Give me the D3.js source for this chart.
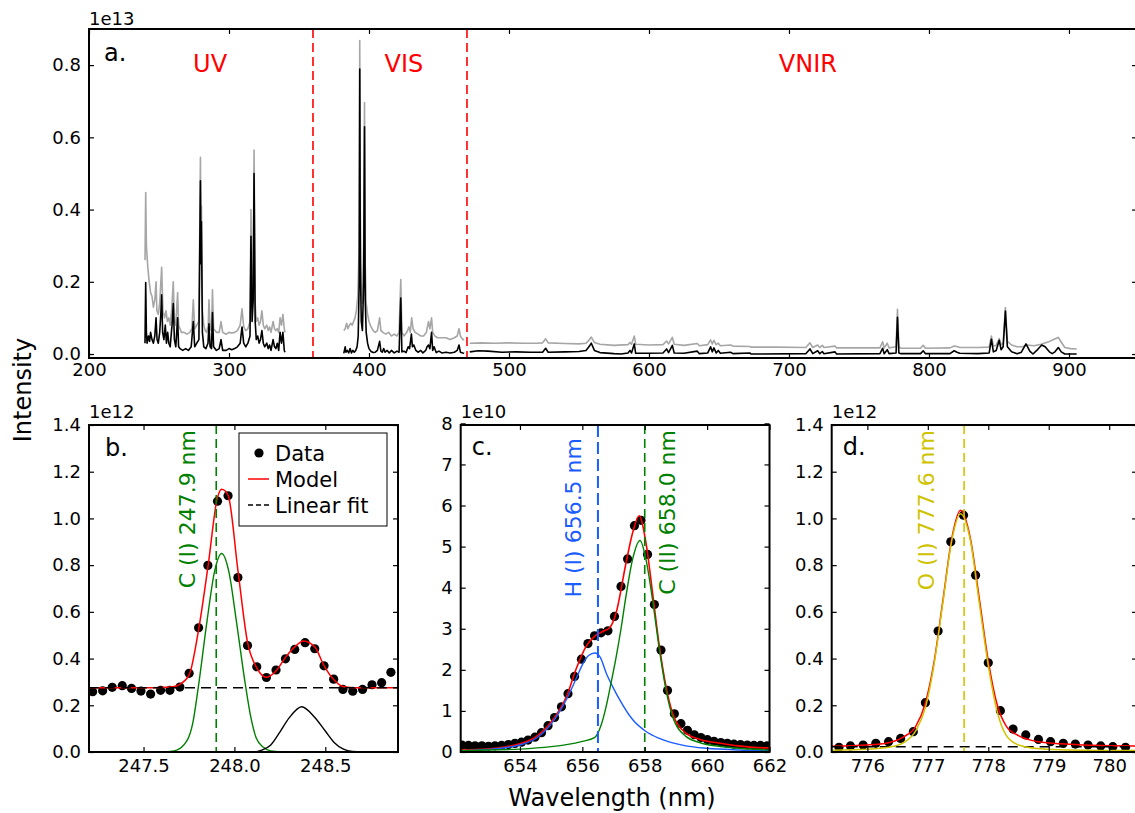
<!DOCTYPE html>
<html>
<head>
<meta charset="utf-8">
<script src="https://cdn.jsdelivr.net/npm/d3@7"></script>
<style>
  html, body { margin: 0; padding: 0; background: #fff; }
  svg { display: block; }
</style>
</head>
<body>
<svg id="fig" width="1135" height="813"></svg>
<script>
// ---------------------------------------------------------------
// Survey spectrum (intensity in units of 1e13), [wavelength nm, value]
// "raw" = measured spectrum, "corrected" = continuum-removed spectrum
// ---------------------------------------------------------------
const uvRaw = [
  [240.0,0.26],[240.5,0.447],[241.0,0.30],[242,0.24],[243,0.20],[244,0.17],[245,0.16],[246,0.13],
  [247,0.15],[247.9,0.20],[248.5,0.12],[249.5,0.11],[250.5,0.14],[251.9,0.24],[252.8,0.12],[254,0.10],
  [255,0.12],[256,0.09],[257,0.10],[258,0.08],[259,0.12],[260.2,0.20],[261,0.09],[262,0.08],
  [263.3,0.17],[264,0.08],[265,0.07],[266,0.06],[268,0.06],[270,0.055],[272,0.06],[273.5,0.07],
  [274.5,0.15],[275.5,0.07],[277,0.08],[278.5,0.09],[279.6,0.545],[280.0,0.30],[280.3,0.41],[281,0.12],
  [282,0.08],[283,0.065],[284,0.06],[285.2,0.08],[285.7,0.15],[286.5,0.07],[287.5,0.065],[288.2,0.178],
  [289,0.07],[291,0.06],[293,0.06],[294.3,0.09],[295.5,0.06],[298,0.055],[300,0.06],[302,0.058],
  [304,0.06],[306,0.065],[308,0.08],[309.3,0.125],[310.5,0.075],[312,0.065],[313.5,0.07],[315,0.09],
  [315.7,0.40],[316.5,0.15],[317.3,0.20],[317.9,0.565],[318.7,0.14],[319.5,0.09],[320.5,0.10],[321.5,0.08],
  [322.5,0.09],[323.5,0.12],[324.5,0.08],[325.5,0.07],[327,0.08],[328,0.065],[329,0.075],[330,0.06],
  [331.5,0.09],[332.5,0.07],[333.5,0.065],[334.5,0.07],[335.5,0.06],[336.5,0.10],[337.5,0.08],[338.5,0.11],
  [339.5,0.07],[340.0,0.06]
];
const uvCorrected = [
  [240.0,0.03],[240.5,0.198],[241.0,0.06],[241.5,0.03],[242.5,0.05],[243.3,0.035],[244,0.06],[245,0.04],
  [246,0.03],[247,0.05],[247.9,0.10],[248.6,0.04],[249.5,0.03],[250.5,0.06],[251.3,0.11],[251.9,0.164],
  [252.6,0.06],[253.5,0.04],[254.5,0.08],[255.3,0.03],[256.2,0.06],[257,0.03],[258,0.02],[259.3,0.08],
  [260.2,0.14],[261,0.04],[262,0.02],[263.3,0.10],[264,0.02],[265,0.015],[267,0.01],[269,0.015],
  [271,0.01],[273,0.02],[274.5,0.09],[275.5,0.02],[277,0.03],[278.5,0.04],[279.6,0.48],[280.0,0.25],
  [280.3,0.367],[281,0.06],[282,0.02],[283.5,0.015],[285,0.03],[285.7,0.084],[286.5,0.02],[287.5,0.015],
  [288.2,0.115],[289,0.02],[291,0.01],[293,0.015],[294.3,0.04],[295.5,0.01],[298,0.01],[300,0.015],
  [302,0.012],[304,0.015],[306,0.02],[308,0.03],[309.3,0.075],[310.5,0.03],[312,0.02],[313.5,0.03],
  [315,0.05],[315.7,0.326],[316.5,0.09],[317.3,0.15],[317.9,0.50],[318.7,0.09],[319.5,0.04],[320.5,0.05],
  [321.5,0.03],[322.5,0.04],[323.5,0.065],[324.5,0.03],[325.5,0.02],[327,0.03],[328,0.015],[329,0.025],
  [330,0.01],[331.5,0.04],[332.5,0.02],[333.5,0.015],[334.5,0.03],[335.5,0.01],[336.5,0.06],[337.5,0.03],
  [338.5,0.06],[339.5,0.01],[340.0,0.005]
];
const visRaw = [
  [382,0.065],[383,0.07],[384,0.085],[385,0.07],[386,0.08],[387,0.085],[388,0.08],[389,0.09],
  [390,0.10],[391,0.12],[392,0.16],[393.0,0.30],[393.4,0.868],[393.8,0.40],[394.5,0.18],[395.3,0.14],
  [396.2,0.30],[396.8,0.696],[397.3,0.25],[398,0.14],[399,0.11],[400,0.09],[401.5,0.075],[403,0.065],
  [404.5,0.06],[406,0.065],[407.6,0.10],[408.5,0.065],[410,0.06],[412,0.055],[414,0.06],[416,0.05],
  [418,0.055],[420,0.05],[421.5,0.06],[422.7,0.206],[423.5,0.06],[425,0.05],[427,0.06],[428.5,0.075],
  [429.5,0.06],[430.5,0.10],[431.5,0.07],[433,0.06],[435,0.055],[437,0.05],[439,0.05],[441,0.06],
  [442.5,0.09],[443.5,0.07],[444.7,0.10],[445.5,0.06],[447,0.05],[449,0.045],[452,0.045],[455,0.045],
  [458,0.04],[461,0.045],[463,0.05],[464.3,0.07],[465.3,0.05],[467,0.04],[468,0.04]
];
const visCorrected = [
  [382,0.002],[383,0.02],[383.5,0.005],[384.5,0.01],[385.5,0.003],[386.5,0.015],[387.5,0.003],[388.5,0.01],
  [389.5,0.005],[390.5,0.01],[391.5,0.02],[392.3,0.05],[393.0,0.20],[393.4,0.789],[393.8,0.25],[394.5,0.09],
  [395.3,0.065],[396.2,0.20],[396.8,0.629],[397.3,0.15],[398,0.06],[399,0.03],[400,0.015],[401.5,0.007],
  [403,0.004],[404.5,0.005],[406,0.01],[407.6,0.035],[408.5,0.008],[409.5,0.005],[410.5,0.015],[411.5,0.005],
  [413,0.01],[414.5,0.003],[416,0.01],[418,0.003],[420,0.008],[421.5,0.005],[422.7,0.155],[423.5,0.006],
  [425,0.008],[426.5,0.004],[428,0.02],[429,0.015],[430.3,0.055],[431,0.02],[432,0.025],[433.5,0.01],
  [435,0.005],[437,0.01],[438.5,0.003],[440.5,0.01],[441.5,0.02],[442.5,0.025],[443.5,0.015],[444.7,0.06],
  [445.5,0.01],[446.5,0.02],[448,0.004],[450,0.008],[452,0.003],[455,0.005],[458,0.003],[461,0.005],
  [463,0.01],[464.3,0.025],[465.3,0.005],[467,0.003],[468,0.002]
];
const vnirRaw = [
  [472,0.030],[480,0.031],[490,0.030],[500,0.031],[510,0.030],[520,0.030],[524,0.031],[526.2,0.042],
  [528,0.031],[540,0.029],[550,0.028],[555,0.030],[557.5,0.040],[558.8,0.047],[561,0.032],[565,0.027],
  [575,0.024],[585,0.026],[586.4,0.032],[587.5,0.027],[589.5,0.050],[590.5,0.027],[600,0.025],[610,0.026],
  [612.6,0.036],[614,0.028],[616.7,0.046],[618,0.027],[625,0.024],[634.5,0.029],[636,0.023],[642,0.026],
  [644,0.039],[645.2,0.028],[646.4,0.038],[648,0.026],[649.5,0.030],[651,0.023],[658.3,0.025],[660,0.022],
  [672,0.021],[673,0.019],[690,0.019],[712,0.018],[715,0.031],[717,0.018],[720.5,0.025],[722,0.018],
  [723.8,0.024],[725,0.018],[732.9,0.022],[734,0.017],[750,0.017],[765,0.017],[766.9,0.034],[768,0.017],
  [770.2,0.030],[771.5,0.017],[776.5,0.020],[777.5,0.124],[778.5,0.020],[780,0.016],[794,0.016],[795.9,0.024],
  [797.5,0.016],[815,0.017],[818,0.022],[820,0.021],[822,0.018],[835,0.018],[843,0.019],[844.6,0.050],
  [846,0.022],[848,0.024],[850.2,0.043],[851.5,0.025],[853,0.030],[854.6,0.129],[856,0.035],[859,0.025],
  [863,0.020],[867,0.020],[870,0.025],[875,0.023],[880,0.027],[885,0.033],[889,0.040],[892.4,0.046],
  [894,0.036],[897,0.018],[901,0.015],[905.5,0.014]
];
const vnirCorrected = [
  [472,0.006],[478,0.009],[485,0.008],[495,0.005],[505,0.006],[515,0.005],[524,0.005],[526.2,0.016],
  [528,0.005],[540,0.006],[550,0.007],[555,0.010],[557.5,0.022],[558.8,0.030],[561,0.010],[565,0.004],
  [575,0.001],[580,0.000],[585,0.003],[586.4,0.010],[587.5,0.003],[589.5,0.028],[590.5,0.002],[600,0.002],
  [610,0.003],[612.6,0.014],[614,0.004],[616.7,0.024],[618,0.003],[625,0.002],[634.5,0.008],[636,0.001],
  [642,0.003],[644,0.020],[645.2,0.006],[646.4,0.017],[648,0.003],[649.5,0.010],[651,0.002],[658.3,0.005],
  [660,0.001],[672,0.003],[673,0.000],[712,0.001],[715,0.014],[717,0.001],[720.5,0.009],[722,0.001],
  [723.8,0.007],[725,0.001],[732.9,0.006],[734,0.000],[765,0.001],[766.9,0.016],[768,0.001],[770.2,0.012],
  [771.5,0.001],[776.5,0.003],[777.5,0.102],[778.5,0.003],[780,0.001],[794,0.001],[795.9,0.009],[797.5,0.001],
  [815,0.001],[818,0.009],[820,0.005],[822,0.002],[835,0.001],[843,0.003],[844.6,0.041],[846,0.006],
  [848,0.010],[850.2,0.038],[851.5,0.012],[853,0.020],[854.6,0.119],[856,0.020],[859,0.006],[863,0.001],
  [866,0.005],[869.3,0.028],[872,0.008],[874.3,0.000],[877,0.010],[880.5,0.025],[883,0.020],[886,0.006],
  [888,0.001],[890,0.006],[892.4,0.018],[894.5,0.006],[897,0.000],[905.5,0.000]
];
// spectrometer ranges: boundaries between the three channels
const channelEdges = [360, 470];
const channelNames = ["UV", "VIS", "VNIR"];

// ---------------------------------------------------------------
// b. C (I) 247.9 nm fit (intensity in units of 1e12)
// ---------------------------------------------------------------
const bData = [
  [247.220,0.258],[247.275,0.262],[247.328,0.277],[247.383,0.284],[247.434,0.272],[247.486,0.261],
  [247.539,0.248],[247.594,0.264],[247.645,0.264],[247.700,0.278],[247.751,0.337],[247.803,0.532],
  [247.854,0.799],[247.907,1.074],[247.965,1.097],[248.019,0.747],[248.072,0.456],[248.123,0.365],
  [248.176,0.319],[248.229,0.351],[248.281,0.399],[248.332,0.439],[248.389,0.468],[248.442,0.442],
  [248.493,0.369],[248.546,0.312],[248.597,0.268],[248.651,0.260],[248.705,0.268],[248.757,0.288],
  [248.810,0.297],[248.861,0.341]
];
const bModel = [
  [247.20,0.275],[247.55,0.275],[247.65,0.278],[247.70,0.29],[247.751,0.33],[247.80,0.51],
  [247.854,0.79],[247.907,1.09],[247.93,1.125],[247.965,1.10],[248.019,0.78],[248.072,0.47],
  [248.123,0.36],[248.176,0.32],[248.229,0.347],[248.281,0.405],[248.332,0.45],[248.38,0.475],
  [248.442,0.45],[248.493,0.37],[248.546,0.31],[248.597,0.28],[248.65,0.275],[248.90,0.275]
];
const bLinear = [[247.20,0.275],[248.90,0.275]];
const bCarbon = [
  [247.20,0],[247.60,0],[247.67,0.005],[247.74,0.05],[247.77,0.12],[247.80,0.27],[247.85,0.565],
  [247.89,0.77],[247.93,0.85],[247.97,0.77],[248.01,0.565],[248.06,0.29],[248.09,0.15],[248.12,0.06],
  [248.16,0.02],[248.20,0.004],[248.28,0],[248.90,0]
];
const bNeighbour = [
  [247.20,0],[248.10,0],[248.15,0.008],[248.20,0.03],[248.25,0.085],[248.30,0.145],[248.37,0.194],
  [248.44,0.15],[248.50,0.09],[248.55,0.04],[248.60,0.012],[248.65,0.002],[248.70,0],[248.90,0]
];

// ---------------------------------------------------------------
// c. H (I) 656.5 nm / C (II) 658.0 nm fit (units of 1e10)
// ---------------------------------------------------------------
const cData = [
  [652.14,0.17],[652.35,0.16],[652.56,0.15],[652.78,0.15],[652.99,0.14],[653.20,0.15],[653.41,0.16],
  [653.63,0.18],[653.84,0.21],[654.05,0.24],[654.26,0.29],[654.48,0.36],[654.69,0.47],[654.90,0.64],
  [655.11,0.84],[655.33,1.10],[655.54,1.42],[655.75,1.84],[655.97,2.26],[656.18,2.64],[656.39,2.83],
  [656.60,2.90],[656.82,2.95],[657.03,3.30],[657.24,4.03],[657.45,4.70],[657.67,5.51],[657.88,5.64],
  [658.09,4.81],[658.31,3.59],[658.52,2.48],[658.73,1.50],[658.95,0.93],[659.16,0.69],[659.37,0.53],
  [659.59,0.42],[659.80,0.35],[660.01,0.30],[660.22,0.26],[660.44,0.23],[660.65,0.21],[660.86,0.19],
  [661.07,0.18],[661.29,0.17],[661.50,0.16],[661.71,0.16],[661.92,0.15]
];
const cModel = [
  [652.10,0.05],[652.93,0.07],[653.50,0.12],[654.00,0.20],[654.53,0.38],[655.06,0.79],[655.49,1.35],
  [655.81,2.04],[656.12,2.57],[656.40,2.82],[656.70,2.95],[656.87,3.02],[657.08,3.38],[657.40,4.60],
  [657.61,5.33],[657.82,5.75],[658.04,5.09],[658.25,3.88],[658.47,2.57],[658.68,1.60],[658.89,0.95],
  [659.32,0.46],[659.80,0.30],[660.38,0.22],[661.00,0.15],[661.87,0.10],[662.00,0.10]
];
const cHydrogen = [
  [652.10,0.03],[652.93,0.06],[654.00,0.17],[654.53,0.34],[655.06,0.74],[655.49,1.28],[655.81,1.80],
  [656.02,2.15],[656.20,2.35],[656.40,2.41],[656.58,2.30],[656.76,1.93],[657.00,1.55],[657.19,1.28],
  [657.61,0.79],[658.04,0.50],[658.47,0.33],[659.32,0.15],[660.00,0.09],[661.00,0.05],[662.00,0.03]
];
const cCarbon = [
  [652.10,0.03],[653.00,0.05],[654.00,0.07],[655.00,0.13],[655.49,0.18],[656.00,0.26],[656.39,0.35],
  [656.60,0.65],[656.76,1.10],[656.92,1.68],[657.08,2.30],[657.24,3.00],[657.40,3.80],[657.61,4.69],
  [657.85,5.15],[658.04,4.69],[658.25,3.71],[658.47,2.49],[658.68,1.52],[658.89,0.87],[659.32,0.38],
  [659.80,0.22],[660.38,0.14],[661.00,0.09],[662.00,0.05]
];

// ---------------------------------------------------------------
// d. O (I) 777.6 nm fit (units of 1e12)
// ---------------------------------------------------------------
const dData = [
  [775.53,0.020],[775.72,0.026],[775.93,0.030],[776.14,0.037],[776.35,0.044],[776.55,0.058],
  [776.76,0.087],[776.96,0.211],[777.17,0.518],[777.38,0.900],[777.59,1.014],[777.79,0.757],
  [778.00,0.382],[778.20,0.177],[778.41,0.098],[778.62,0.073],[778.83,0.054],[779.03,0.044],
  [779.24,0.037],[779.44,0.034],[779.65,0.030],[779.86,0.026],[780.06,0.023],[780.27,0.020]
];
const dModel = [
  [775.41,0.025],[776.00,0.030],[776.35,0.040],[776.60,0.065],[776.80,0.11],[776.96,0.21],[777.10,0.38],
  [777.25,0.65],[777.40,0.92],[777.54,1.035],[777.70,0.92],[777.85,0.66],[778.00,0.39],[778.15,0.20],
  [778.30,0.11],[778.50,0.07],[778.80,0.045],[779.20,0.035],[779.60,0.030],[780.00,0.027],[780.50,0.025]
];
const dLinear = [[775.41,0.022],[780.50,0.022]];
const dOxygen = [
  [775.41,0.008],[776.00,0.012],[776.35,0.020],[776.60,0.040],[776.80,0.09],[776.96,0.19],[777.10,0.37],
  [777.25,0.64],[777.40,0.91],[777.54,1.02],[777.70,0.91],[777.85,0.64],[778.00,0.37],[778.15,0.17],
  [778.30,0.07],[778.50,0.03],[778.80,0.015],[779.20,0.010],[780.50,0.006]
];

// identified emission lines
const lineWavelengths = { C1: 247.9, H1: 656.5, C2: 658.0, O1: 777.6 };

// tick values
const topXTicks = [200, 300, 400, 500, 600, 700, 800, 900];
const topYTicks = [0.0, 0.2, 0.4, 0.6, 0.8];
const bXTicks = [247.5, 248.0, 248.5];
const bYTicks = [0.0, 0.2, 0.4, 0.6, 0.8, 1.0, 1.2, 1.4];
const cXTicks = [654, 656, 658, 660, 662];
const cYTicks = [0, 1, 2, 3, 4, 5, 6, 7, 8];
const dXTicks = [776, 777, 778, 779, 780];
const dYTicks = [0.0, 0.2, 0.4, 0.6, 0.8, 1.0, 1.2, 1.4];

// ---------------------------------------------------------------
const FONT = '"DejaVu Sans", "Liberation Sans", sans-serif';
const GREEN = "#008000", BLUE = "#1a5cff", YELLOW = "#cfc300", RED = "#ff0000";
const svg = d3.select("#fig").attr("font-family", FONT);
let clipCount = 0;

function makePanel(box, xDom, yDom, xTicks, yTicks, xFmt, yFmt, padX) {
  const x = d3.scaleLinear().domain(xDom).range([box.left, box.right]);
  const y = d3.scaleLinear().domain(yDom).range([box.bottom, box.top]);
  const id = "clip" + (clipCount++);
  svg.append("clipPath").attr("id", id).append("rect")
    .attr("x", box.left).attr("y", box.top)
    .attr("width", box.right - box.left).attr("height", box.bottom - box.top);
  const plot = svg.append("g").attr("clip-path", `url(#${id})`);
  const axes = svg.append("g");
  const T = 5, blank = () => "";
  axes.append("g").attr("transform", `translate(0,${box.bottom})`)
    .call(d3.axisBottom(x).tickValues(xTicks).tickFormat(xFmt).tickSizeInner(-T).tickSizeOuter(0).tickPadding(padX));
  axes.append("g").attr("transform", `translate(0,${box.top})`)
    .call(d3.axisTop(x).tickValues(xTicks).tickFormat(blank).tickSizeInner(-T).tickSizeOuter(0));
  axes.append("g").attr("transform", `translate(${box.left},0)`)
    .call(d3.axisLeft(y).tickValues(yTicks).tickFormat(yFmt).tickSizeInner(-T).tickSizeOuter(0).tickPadding(8));
  axes.append("g").attr("transform", `translate(${box.right},0)`)
    .call(d3.axisRight(y).tickValues(yTicks).tickFormat(blank).tickSizeInner(-T).tickSizeOuter(0));
  axes.selectAll(".domain").remove();
  axes.selectAll("g").attr("font-family", FONT).attr("font-size", 18);
  axes.selectAll(".tick text").attr("fill", "#000");
  axes.selectAll(".tick line").attr("stroke", "#000").attr("stroke-width", 1.2);
  axes.append("rect")
    .attr("x", box.left).attr("y", box.top)
    .attr("width", box.right - box.left).attr("height", box.bottom - box.top)
    .attr("fill", "none").attr("stroke", "#000").attr("stroke-width", 2);
  return { x, y, plot, axes, box };
}

function drawLine(p, data, color, width, opts = {}) {
  const gen = d3.line().x(d => p.x(d[0])).y(d => p.y(d[1]))
    .curve(opts.smooth ? d3.curveMonotoneX : d3.curveLinear);
  const path = p.plot.append("path").datum(data).attr("d", gen)
    .attr("fill", "none").attr("stroke", color).attr("stroke-width", width)
    .attr("stroke-linejoin", "round");
  if (opts.dash) path.attr("stroke-dasharray", opts.dash);
  return path;
}

function drawDots(p, data) {
  p.plot.append("g").selectAll("circle").data(data).join("circle")
    .attr("cx", d => p.x(d[0])).attr("cy", d => p.y(d[1])).attr("r", 4.6)
    .attr("fill", "#000");
}

function vLine(p, xv, color, width, dash) {
  p.plot.append("line")
    .attr("x1", p.x(xv)).attr("x2", p.x(xv))
    .attr("y1", p.box.top).attr("y2", p.box.bottom)
    .attr("stroke", color).attr("stroke-width", width).attr("stroke-dasharray", dash);
}

function lineLabel(p, baselineX, topY, text, color) {
  p.axes.append("text")
    .attr("transform", `translate(${baselineX},${topY}) rotate(-90)`)
    .attr("text-anchor", "end").attr("font-size", 22).attr("fill", color)
    .text(text);
}

function corner(p, text, dx, baseline) {
  p.axes.append("text").attr("x", p.box.left + dx).attr("y", baseline)
    .attr("font-size", 24).attr("fill", "#000").text(text);
}

function offsetText(p, text, baseline) {
  p.axes.append("text").attr("x", p.box.left).attr("y", baseline)
    .attr("font-size", 18).attr("fill", "#000").text(text);
}

const f1 = d3.format(".1f"), fi = d3.format("d");

// ---------------- a. survey spectrum ----------------
const pa = makePanel({ left: 89, right: 1137, top: 29, bottom: 358 },
  [200, 948.6], [-0.011, 0.9], topXTicks, topYTicks, fi, f1, 5);
[[uvRaw, uvCorrected], [visRaw, visCorrected], [vnirRaw, vnirCorrected]].forEach(([raw, cor]) => {
  drawLine(pa, raw, "#a6a6a6", 1.6);
});
[uvCorrected, visCorrected, vnirCorrected].forEach(cor => drawLine(pa, cor, "#000", 1.6));
channelEdges.forEach(e => vLine(pa, e, RED, 1.6, "9,5"));
// channel names centred over each range
const labelAt = [286.5, 425, 713.5];
channelNames.forEach((n, i) => {
  pa.axes.append("text").attr("x", pa.x(labelAt[i])).attr("y", 71.5)
    .attr("text-anchor", "middle").attr("font-size", 24).attr("fill", RED).text(n);
});
corner(pa, "a.", 15, 61);
offsetText(pa, "1e13", 25);

// ---------------- b. C (I) ----------------
const pb = makePanel({ left: 89, right: 398, top: 425, bottom: 752 },
  [247.2, 248.9], [0, 1.4], bXTicks, bYTicks, f1, f1, 7);
drawDots(pb, bData);
drawLine(pb, bModel, RED, 1.5, { smooth: true });
drawLine(pb, bLinear, "#000", 1.5, { dash: "10,6" });
drawLine(pb, bCarbon, GREEN, 1.4, { smooth: true });
drawLine(pb, bNeighbour, "#000", 1.4, { smooth: true });
vLine(pb, lineWavelengths.C1, GREEN, 1.6, "9,5");
lineLabel(pb, 195, 430, `C (I) ${f1(lineWavelengths.C1)} nm`, GREEN);
corner(pb, "b.", 16, 456);
offsetText(pb, "1e12", 418);

// legend
const lg = pb.axes.append("g");
lg.append("rect").attr("x", 239).attr("y", 433).attr("width", 148).attr("height", 93)
  .attr("fill", "#fff").attr("stroke", "#000").attr("stroke-width", 1);
const legendItems = ["Data", "Model", "Linear fit"];
legendItems.forEach((name, i) => {
  const cy = 453 + i * 26;
  if (i === 0) lg.append("circle").attr("cx", 259).attr("cy", cy).attr("r", 4.6).attr("fill", "#000");
  if (i === 1) lg.append("line").attr("x1", 248).attr("x2", 269).attr("y1", cy).attr("y2", cy)
    .attr("stroke", RED).attr("stroke-width", 1.5);
  if (i === 2) lg.append("line").attr("x1", 248).attr("x2", 269).attr("y1", cy).attr("y2", cy)
    .attr("stroke", "#000").attr("stroke-width", 1.5).attr("stroke-dasharray", "5,3");
  lg.append("text").attr("x", 275).attr("y", cy).attr("dy", "0.36em")
    .attr("font-size", 21).attr("fill", "#000").text(name);
});

// ---------------- c. H (I) + C (II) ----------------
const pc = makePanel({ left: 460.7, right: 769.5, top: 425, bottom: 752 },
  [652.1, 662], [0, 7.96], cXTicks, cYTicks, fi, fi, 7);
drawDots(pc, cData);
drawLine(pc, cModel, RED, 1.6, { smooth: true });
drawLine(pc, cHydrogen, BLUE, 1.4, { smooth: true });
drawLine(pc, cCarbon, GREEN, 1.4, { smooth: true });
vLine(pc, lineWavelengths.H1, BLUE, 2, "12,5");
vLine(pc, lineWavelengths.C2, GREEN, 1.6, "9,5");
lineLabel(pc, 581, 438, `H (I) ${f1(lineWavelengths.H1)} nm`, BLUE);
lineLabel(pc, 675, 430, `C (II) ${f1(lineWavelengths.C2)} nm`, GREEN);
corner(pc, "c.", 11, 455);
offsetText(pc, "1e10", 418);

// ---------------- d. O (I) ----------------
const pd = makePanel({ left: 831.7, right: 1137, top: 425, bottom: 752 },
  [775.41, 780.46], [0, 1.4], dXTicks, dYTicks, fi, f1, 7);
drawDots(pd, dData);
drawLine(pd, dModel, RED, 1.5, { smooth: true });
drawLine(pd, dLinear, "#000", 1.5, { dash: "10,6" });
drawLine(pd, dOxygen, YELLOW, 1.5, { smooth: true });
vLine(pd, lineWavelengths.O1, YELLOW, 1.6, "9,5");
lineLabel(pd, 934, 430, `O (I) ${f1(lineWavelengths.O1)} nm`, YELLOW);
corner(pd, "d.", 11, 455);
offsetText(pd, "1e12", 418);

// ---------------- shared axis titles ----------------
svg.append("text").attr("transform", "translate(31,390) rotate(-90)")
  .attr("text-anchor", "middle").attr("font-size", 24).attr("fill", "#000").text("Intensity");
svg.append("text").attr("x", 612).attr("y", 806)
  .attr("text-anchor", "middle").attr("font-size", 24).attr("fill", "#000").text("Wavelength (nm)");
</script>
</body>
</html>
